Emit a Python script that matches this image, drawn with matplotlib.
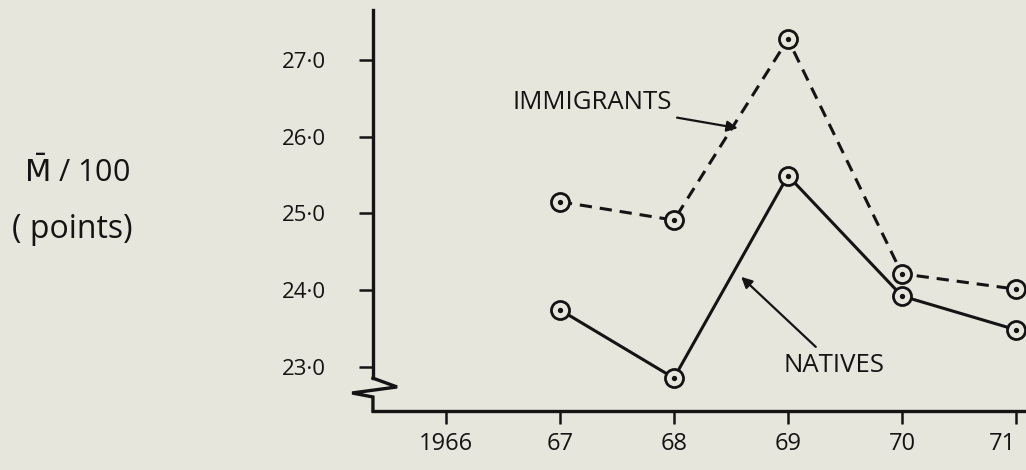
import matplotlib
matplotlib.use("Agg")
import matplotlib.pyplot as plt

plt.rcParams['font.family'] = ['Open Sans', 'DejaVu Sans']

# values
years = [1967, 1968, 1969, 1970, 1971]
immigrants = [25.15, 24.91, 27.27, 24.21, 24.01]
natives = [23.74, 22.85, 25.49, 23.92, 23.48]
x_ticks = [1966, 1967, 1968, 1969, 1970, 1971]
x_labels = ["1966", "67", "68", "69", "70", "71"]
y_ticks = [23.0, 24.0, 25.0, 26.0, 27.0]
y_labels = ["23·0", "24·0", "25·0", "26·0", "27·0"]

bg = "#e6e6dc"
ink = "#141414"

fig = plt.figure(figsize=(10.26, 4.70), dpi=100, facecolor=bg)
ax = fig.add_axes([0.3635, 0.1255, 0.6345, 0.853])
ax.set_facecolor(bg)

ax.set_xlim(1965.36, 1971.07)
ax.set_ylim(22.42, 27.65)

# lines
ax.plot(years, immigrants, color=ink, lw=2.2, dashes=(4, 2.6), zorder=2, clip_on=False)
ax.plot(years, natives, color=ink, lw=2.2, zorder=2, clip_on=False)
for ys in (immigrants, natives):
    ax.plot(years, ys, ls="none", marker="o", ms=13, mfc=bg, mec=ink, mew=2.0,
            zorder=3, clip_on=False)
    ax.plot(years, ys, ls="none", marker="o", ms=2.8, mfc=ink, mec=ink,
            zorder=4, clip_on=False)

# axes
for s in ("top", "right"):
    ax.spines[s].set_visible(False)
ax.spines["left"].set_linewidth(2.4)
ax.spines["bottom"].set_linewidth(2.4)
ax.spines["left"].set_color(ink)
ax.spines["bottom"].set_color(ink)
ax.spines["left"].set_bounds(22.85, 27.65)

# axis break zigzag
ax.plot([0, 0.037, -0.032, 0, 0], [0.082, 0.060, 0.045, 0.035, 0],
        transform=ax.transAxes, color=ink, lw=2.4, clip_on=False,
        solid_joinstyle="miter")

ax.set_xticks(x_ticks)
ax.set_xticklabels(x_labels)
ax.set_yticks(y_ticks)
ax.set_yticklabels(y_labels)
ax.tick_params(axis="y", length=10, width=1.8, color=ink, pad=24,
               labelsize=16, labelcolor=ink)
ax.tick_params(axis="x", length=9, width=1.8, color=ink, pad=6,
               labelsize=17, labelcolor=ink)
# last label sits at the right edge of the page
ax.get_xticklabels()[-1].set_horizontalalignment("right")

# annotations
ax.annotate("IMMIGRANTS", xy=(1968.56, 26.11), xytext=(1966.58, 26.44),
            fontsize=18.5, color=ink, va="center", ha="left",
            arrowprops=dict(arrowstyle="-|>", color=ink, lw=1.6,
                            mutation_scale=16, shrinkA=2, shrinkB=0))
ax.annotate("NATIVES", xy=(1968.59, 24.17), xytext=(1968.96, 23.02),
            fontsize=18.5, color=ink, va="center", ha="left",
            arrowprops=dict(arrowstyle="-|>", color=ink, lw=1.6,
                            mutation_scale=16, shrinkA=3, shrinkB=0,
                            relpos=(0.38, 1.0)))

fig.text(0.075, 0.632, r"$\bar{\mathrm{M}}$ / 100", fontsize=22, color=ink,
         ha="center", va="center")
fig.text(0.070, 0.511, "( points)", fontsize=23, color=ink,
         ha="center", va="center")

fig.savefig("out.png", dpi=100, facecolor=bg)
